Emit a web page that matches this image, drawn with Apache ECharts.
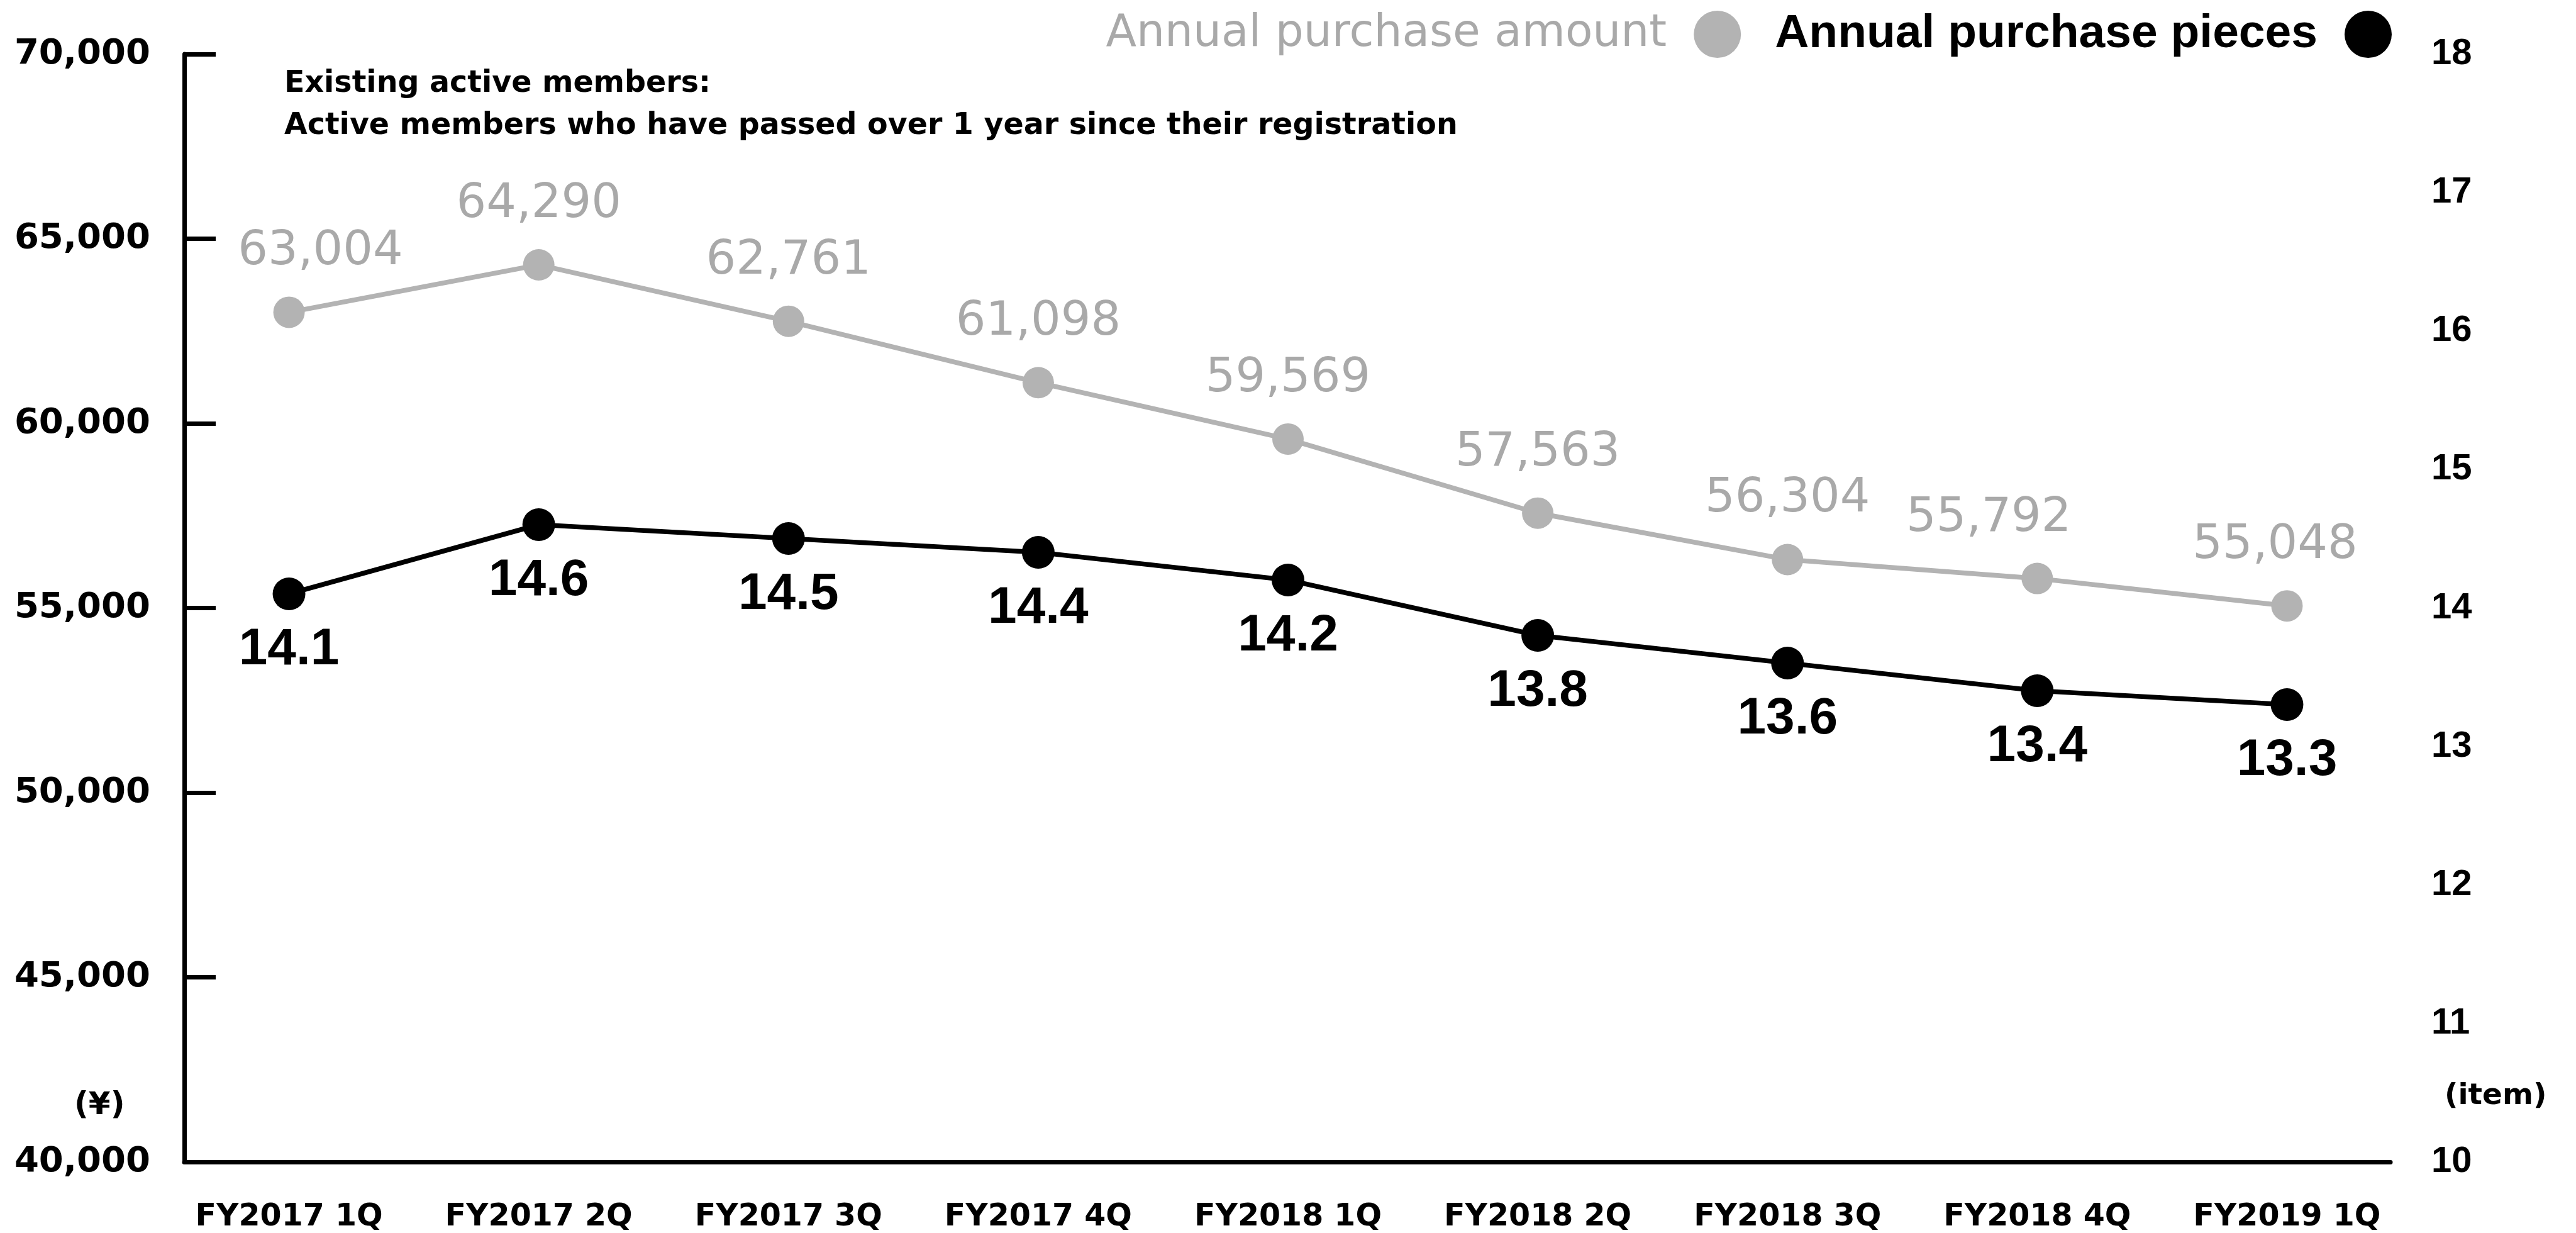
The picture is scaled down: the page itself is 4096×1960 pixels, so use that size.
<!DOCTYPE html>
<html>
<head>
<meta charset="utf-8">
<title>Annual purchase amount and pieces — existing active members</title>
<script src="https://cdn.jsdelivr.net/npm/echarts@6/dist/echarts.min.js"></script>
<style>
  html, body { margin: 0; padding: 0; background: #ffffff; }
  #chart { width: 4096px; height: 1960px; }
</style>
</head>
<body>
<div id="chart"></div>
<script>
// Quarterly figures for existing active members
const categories = ['FY2017 1Q', 'FY2017 2Q', 'FY2017 3Q', 'FY2017 4Q', 'FY2018 1Q',
                    'FY2018 2Q', 'FY2018 3Q', 'FY2018 4Q', 'FY2019 1Q'];
const purchaseAmount = [63004, 64290, 62761, 61098, 59569, 57563, 56304, 55792, 55048]; // yen
const purchasePieces = [14.1, 14.6, 14.5, 14.4, 14.2, 13.8, 13.6, 13.4, 13.3];          // items

const amountAxis = { min: 40000, max: 70000, interval: 5000 };
const piecesAxis = { min: 10, max: 18, interval: 1 };

const seriesNames = ['Annual purchase amount', 'Annual purchase pieces'];

// Horizontal nudges (px) for a few amount labels that sit off-centre
const amountLabelNudge = { 0: 50, 7: -77, 8: -19 };

const GRAY = '#b3b3b3';
const GRAY_TEXT = '#a9a9a9';
const BLACK = '#000000';

const fmtThousands = v => Number(v).toLocaleString('en-US');

const chart = echarts.init(document.getElementById('chart'), null, { renderer: 'canvas' });

const option = {
  backgroundColor: '#ffffff',
  animation: false,
  grid: [
    // frame: axis lines and tick labels
    { left: 293, right: 295, top: 86, bottom: 113, containLabel: false },
    // plot area for the two lines
    { left: 261, right: 261, top: 86, bottom: 113, containLabel: false }
  ],
  legend: {
    right: 293,
    top: 17,
    padding: 0,
    align: 'right',
    icon: 'circle',
    itemWidth: 75,
    itemHeight: 75,
    itemGap: 54,
    selectedMode: false,
    data: [
      { name: seriesNames[0],
        textStyle: { color: GRAY_TEXT, fontFamily: 'DejaVu Sans', fontSize: 71, padding: [0, 38, 0, 0] } },
      { name: seriesNames[1],
        textStyle: { color: BLACK, fontFamily: 'Liberation Sans', fontWeight: 'bold', fontSize: 75, padding: [0, 38, 0, 0] } }
    ]
  },
  xAxis: [
    {
      gridIndex: 0, type: 'value', min: 0, max: 1,
      axisLine: { show: true, onZero: false, lineStyle: { color: BLACK, width: 7 } },
      axisTick: { show: false }, axisLabel: { show: false }, splitLine: { show: false }
    },
    {
      gridIndex: 1, type: 'category', data: categories, boundaryGap: true,
      axisLine: { show: false }, axisTick: { show: false }, splitLine: { show: false },
      axisLabel: {
        interval: 0, margin: 65, color: BLACK,
        fontFamily: 'DejaVu Sans', fontWeight: 'bold', fontSize: 49
      }
    }
  ],
  yAxis: [
    {
      gridIndex: 0, type: 'value', position: 'left',
      min: amountAxis.min, max: amountAxis.max, interval: amountAxis.interval,
      axisLine: { show: true, lineStyle: { color: BLACK, width: 7 } },
      axisTick: { show: true, inside: true, length: 50, lineStyle: { color: BLACK, width: 7 } },
      splitLine: { show: false },
      axisLabel: {
        margin: 54, color: BLACK, formatter: fmtThousands,
        fontFamily: 'DejaVu Sans', fontWeight: 'bold', fontSize: 56
      }
    },
    {
      gridIndex: 0, type: 'value', position: 'right',
      min: piecesAxis.min, max: piecesAxis.max, interval: piecesAxis.interval,
      axisLine: { show: false }, axisTick: { show: false }, splitLine: { show: false },
      axisLabel: {
        margin: 65, color: BLACK,
        fontFamily: 'Liberation Sans', fontWeight: 'bold', fontSize: 58
      }
    },
    { gridIndex: 1, type: 'value', show: false, min: amountAxis.min, max: amountAxis.max, splitLine: { show: false } },
    { gridIndex: 1, type: 'value', show: false, min: piecesAxis.min, max: piecesAxis.max, splitLine: { show: false } }
  ],
  series: [
    {
      name: seriesNames[0],
      type: 'line',
      xAxisIndex: 1, yAxisIndex: 2,
      data: purchaseAmount.map((v, i) => ({
        value: v,
        label: { offset: [amountLabelNudge[i] || 0, 0] }
      })),
      symbol: 'circle', symbolSize: 50,
      itemStyle: { color: GRAY },
      lineStyle: { color: GRAY, width: 7.7 },
      label: {
        show: true, position: 'top', distance: 33,
        color: GRAY_TEXT, fontFamily: 'DejaVu Sans', fontSize: 75,
        formatter: p => fmtThousands(p.value)
      },
      z: 3
    },
    {
      name: seriesNames[1],
      type: 'line',
      xAxisIndex: 1, yAxisIndex: 3,
      data: purchasePieces,
      symbol: 'circle', symbolSize: 52,
      itemStyle: { color: BLACK },
      lineStyle: { color: BLACK, width: 7.7 },
      label: {
        show: true, position: 'bottom', distance: 22,
        color: BLACK, fontFamily: 'Liberation Sans', fontWeight: 'bold', fontSize: 82,
        formatter: p => Number(p.value).toFixed(1)
      },
      z: 4
    }
  ],
  graphic: [
    {
      type: 'text', left: 452, top: 110,
      style: {
        text: 'Existing active members:',
        fill: BLACK, font: 'bold 47.5px "DejaVu Sans"'
      }
    },
    {
      type: 'text', left: 452, top: 177,
      style: {
        text: 'Active members who have passed over 1 year since their registration',
        fill: BLACK, font: 'bold 47.5px "DejaVu Sans"'
      }
    },
    {
      type: 'text', left: 118, top: 1733,
      style: { text: '(¥)', fill: BLACK, font: 'bold 50px "DejaVu Sans"' }
    },
    {
      type: 'text', left: 3887, top: 1719,
      style: { text: '(item)', fill: BLACK, font: 'bold 47px "DejaVu Sans"' }
    }
  ]
};

chart.setOption(option);
</script>
</body>
</html>
